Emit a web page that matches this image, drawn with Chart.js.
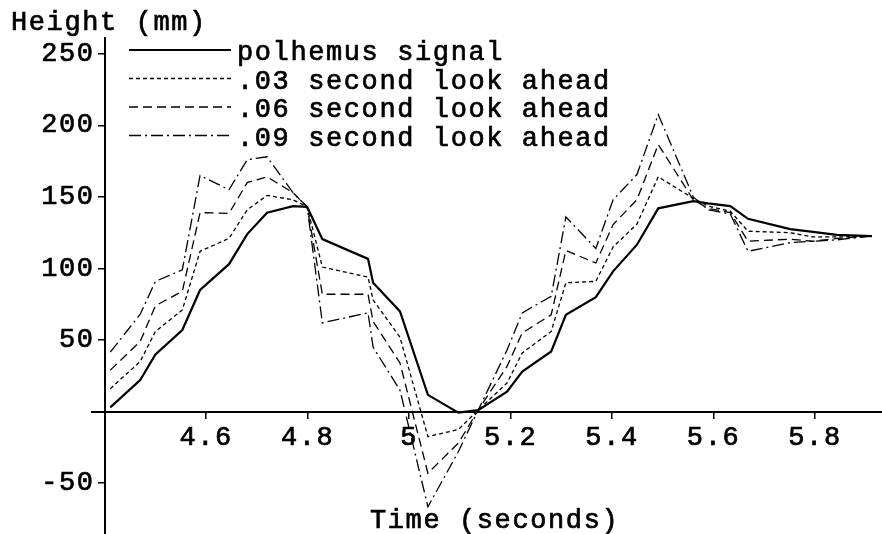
<!DOCTYPE html>
<html>
<head>
<meta charset="utf-8">
<script src="https://cdn.jsdelivr.net/npm/chart.js@4.4.0/dist/chart.umd.min.js"></script>
<style>
  html, body { margin: 0; padding: 0; background: #fff; }
  #plot { display: block; }
</style>
</head>
<body>
<canvas id="plot" width="882" height="534"></canvas>
<script>
// sample times in seconds
let times = [4.411, 4.470, 4.500, 4.553, 4.588, 4.645, 4.681, 4.720, 4.771, 4.799,
             4.829, 4.919, 4.929, 4.982, 5.037, 5.097, 5.136, 5.193, 5.223, 5.280,
             5.309, 5.368, 5.402, 5.449, 5.491, 5.560, 5.589, 5.633, 5.668, 5.751,
             5.796, 5.843, 5.912];

// height in mm for each series
let polhemus = [3, 22, 40, 57, 85, 103, 124, 139, 143.5, 143,
                120.5, 106.7, 90, 70, 11.7, -0.7, 1, 14, 28, 42,
                67.6, 80, 98, 116.6, 142, 147, 145.5, 143.6, 134.7, 127.5,
                125.5, 123.5, 122.6];
let ahead03 = [16, 35, 56, 71, 112, 121, 141, 151, 148, 143,
               101, 94, 78, 52, -17.5, -12.5, 1, 20, 41, 56,
               90, 91, 115, 131, 164, 149, 143.6, 140, 126, 125,
               122, 122, 122.6];
let ahead06 = [29, 49, 74, 84, 139, 138.5, 160, 164, 153, 143,
               82, 82, 63, 34, -43, -22, 1, 31.6, 55, 67.6,
               112.6, 103.8, 130.7, 148, 186.6, 148, 142, 139, 119, 120.5,
               119, 121, 122.6];
let ahead09 = [41.5, 68, 91, 99, 165, 155, 176, 178, 153, 143,
               62, 69, 45, 15, -66.5, -28, 1, 43, 69, 80.6,
               136, 114, 148, 165.6, 207.6, 150, 141, 138, 112, 118,
               119, 120, 122.6];

let seriesNames = ['polhemus signal', '.03 second look ahead',
                   '.06 second look ahead', '.09 second look ahead'];
let xTicks = [4.6, 4.8, 5, 5.2, 5.4, 5.6, 5.8];
let yTicks = [-50, 50, 100, 150, 200, 250];

const FAMILY = '"Liberation Mono", "Courier New", monospace';
const SPACING = '1.6px';
const STROKE = 0.7;
const tickFont = { family: FAMILY, size: 27 };

function toPoints(values) {
    return values.map((v, i) => ({x: times[i], y: v}));
}

// scales that sit inside the plot should not push the plot area around
function noPadding(axis) {
    axis.paddingTop = 0;
    axis.paddingBottom = 0;
    axis.paddingLeft = 0;
    axis.paddingRight = 0;
}

// draws text a little heavier, like the printed Courier
function heavyText(ctx, str, x, y) {
    ctx.fillText(str, x, y);
    ctx.strokeText(str, x, y);
}

// axis titles and the in-plot legend
const textPlugin = {
    id: 'textPlugin',
    beforeDraw(chart) {
        let ctx = chart.ctx;
        ctx.save();
        ctx.fillStyle = '#fff';
        ctx.fillRect(0, 0, chart.width, chart.height);
        ctx.restore();
        ctx.letterSpacing = SPACING;
    },
    afterDraw(chart) {
        let ctx = chart.ctx;
        ctx.save();
        ctx.letterSpacing = SPACING;
        ctx.font = '27px ' + FAMILY;
        ctx.fillStyle = '#000';
        ctx.strokeStyle = '#000';
        ctx.lineWidth = STROKE;
        ctx.textBaseline = 'alphabetic';
        ctx.textAlign = 'left';
        heavyText(ctx, 'Height (mm)', 11, 30);
        heavyText(ctx, 'Time (seconds)', 370, 528);

        chart.data.datasets.forEach((ds, i) => {
            let y = 50 + i * 28.5;
            ctx.beginPath();
            ctx.setLineDash(ds.borderDash || []);
            ctx.lineWidth = ds.borderWidth;
            ctx.moveTo(129, y);
            ctx.lineTo(231, y);
            ctx.stroke();
            ctx.setLineDash([]);
            ctx.lineWidth = STROKE;
            heavyText(ctx, ds.label, 237, y + 10);
        });
        ctx.restore();
    }
};

let elCanvas = document.getElementById('plot').getContext('2d');

let dashes = [[], [4, 3], [9, 5], [12, 4, 2, 4]];
let widths = [2.2, 1.3, 1.3, 1.3];
let seriesData = [polhemus, ahead03, ahead06, ahead09];

let elChart = new Chart(elCanvas, {
    type: 'line',
    data: {
        datasets: seriesData.map((vals, i) => ({
            label: seriesNames[i],
            data: toPoints(vals),
            borderColor: '#000',
            borderWidth: widths[i],
            borderDash: dashes[i],
            pointRadius: 0,
            tension: 0,
            fill: false
        }))
    },
    options: {
        responsive: false,
        animation: false,
        devicePixelRatio: 1,
        layout: { padding: { left: 92, top: 38, right: 0, bottom: 0 } },
        plugins: {
            legend: { display: false },
            tooltip: { enabled: false }
        },
        scales: {
            x: {
                type: 'linear',
                min: 4.375,
                max: 5.932,
                position: { y: 0 },
                border: { color: '#000', width: 2 },
                grid: { drawOnChartArea: false, color: '#000', lineWidth: 1.5, tickLength: 6 },
                ticks: {
                    color: '#000',
                    font: tickFont,
                    textStrokeColor: '#000',
                    textStrokeWidth: STROKE,
                    padding: 4,
                    maxRotation: 0,
                    autoSkip: false,
                    callback: v => String(v)
                },
                afterBuildTicks: axis => { axis.ticks = xTicks.map(v => ({ value: v })); },
                afterFit: noPadding
            },
            // the vertical axis line and its tick marks
            y: {
                type: 'linear',
                min: -85.5,
                max: 261,
                position: { x: 4.4 },
                border: { color: '#000', width: 2 },
                grid: { drawOnChartArea: false, color: '#000', lineWidth: 1.5, tickLength: 6 },
                ticks: { display: false },
                afterBuildTicks: axis => { axis.ticks = yTicks.map(v => ({ value: v })); },
                afterFit: noPadding
            },
            // the vertical axis numbers, set a little left of the line
            yLabels: {
                axis: 'y',
                type: 'linear',
                min: -85.5,
                max: 261,
                position: { x: 4.3802 },
                border: { display: false },
                grid: { display: false },
                ticks: {
                    color: '#000',
                    font: tickFont,
                    textStrokeColor: '#000',
                    textStrokeWidth: STROKE,
                    autoSkip: false,
                    callback: v => String(v)
                },
                afterBuildTicks: axis => { axis.ticks = yTicks.map(v => ({ value: v })); },
                afterFit: noPadding
            }
        }
    },
    plugins: [textPlugin]
});
</script>
</body>
</html>
